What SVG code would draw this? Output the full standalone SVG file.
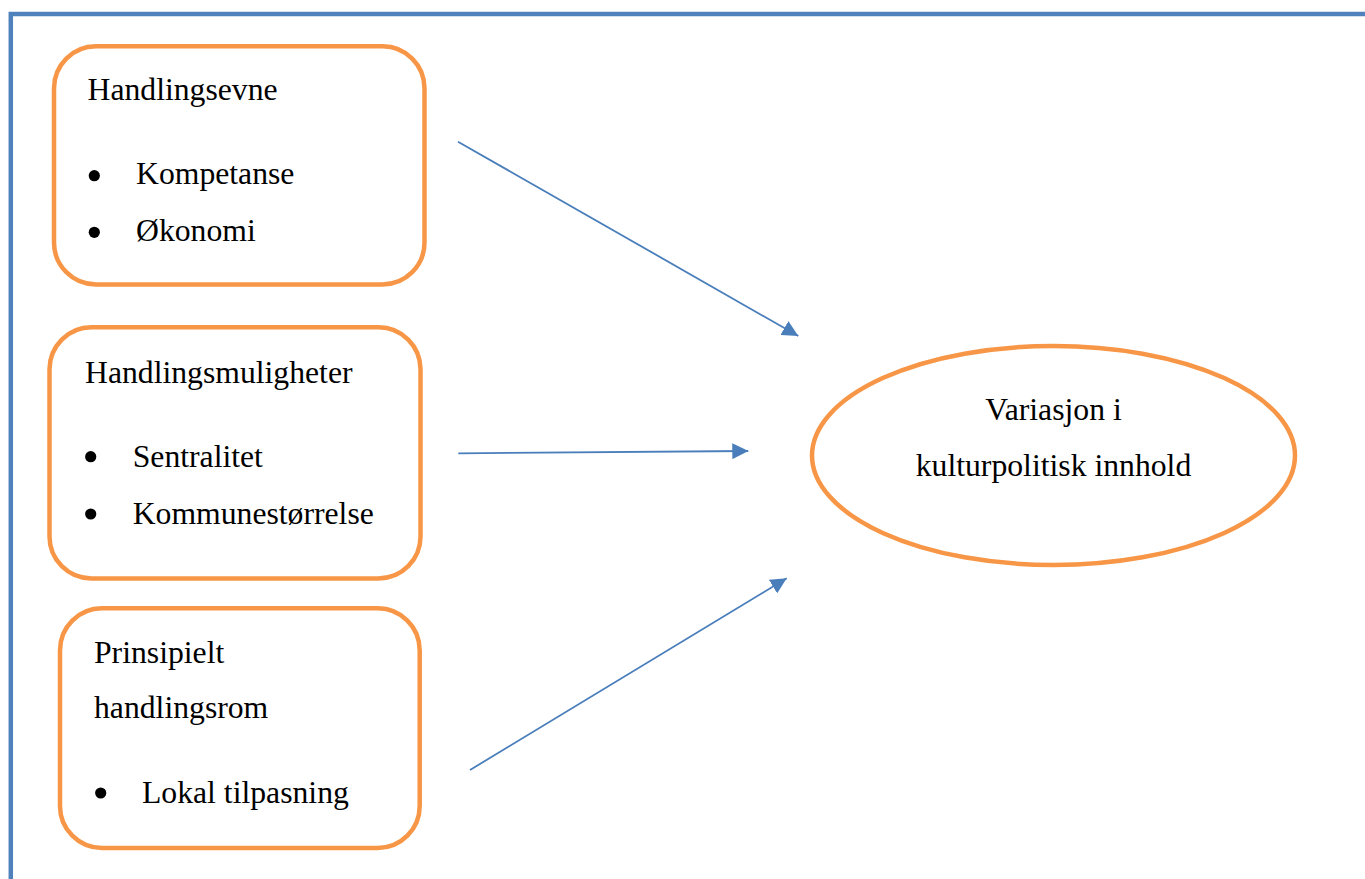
<svg xmlns="http://www.w3.org/2000/svg" width="1365" height="879" viewBox="0 0 1365 879">
<defs>
<style>
.frame{fill:none;stroke:#4f81bd;stroke-width:4.5}
.box{fill:#fff;stroke:#f79646;stroke-width:4.5}
.t{font-family:"Liberation Serif","Times New Roman",serif;font-size:31.7px;fill:#000}
.b{fill:#000}
.c{stroke:#4a7ebb;stroke-width:1.8;fill:none}
</style>
<marker id="ah" viewBox="0 0 10 10" refX="10" refY="5" markerUnits="userSpaceOnUse" markerWidth="16" markerHeight="16" orient="auto">
<path d="M0,0 L10,5 L0,10 z" fill="#4a7ebb"/>
</marker>
</defs>
<rect width="1365" height="879" fill="#fff"/>
<path class="frame" d="M10.8,879 V14 H1366"/>
<g id="node-handlingsevne">
<rect class="box" x="54" y="46.3" width="370.5" height="238.2" rx="42" ry="42"/>
<text class="t" x="87.5" y="100">Handlingsevne</text>
<circle class="b" cx="94.3" cy="175.7" r="5.6"/>
<text class="t" x="136" y="184.3">Kompetanse</text>
<circle class="b" cx="94.3" cy="232.3" r="5.6"/>
<text class="t" x="136" y="241">Økonomi</text>
</g>
<g id="node-handlingsmuligheter">
<rect class="box" x="49.5" y="327.3" width="371" height="251.2" rx="42" ry="42"/>
<text class="t" x="85" y="382.7">Handlingsmuligheter</text>
<circle class="b" cx="90.7" cy="456.7" r="5.6"/>
<text class="t" x="132.7" y="466.7">Sentralitet</text>
<circle class="b" cx="90.7" cy="514" r="5.6"/>
<text class="t" x="132.7" y="524.3">Kommunestørrelse</text>
</g>
<g id="node-handlingsrom">
<rect class="box" x="60" y="608.3" width="359.7" height="239.7" rx="42" ry="42"/>
<text class="t" x="94" y="663">Prinsipielt</text>
<text class="t" x="94" y="718">handlingsrom</text>
<circle class="b" cx="100.7" cy="793" r="5.6"/>
<text class="t" x="142" y="803">Lokal tilpasning</text>
</g>
<g id="node-variasjon">
<ellipse class="box" cx="1053.5" cy="455.5" rx="241.5" ry="109.5"/>
<text class="t" x="1053.5" y="420" text-anchor="middle">Variasjon i</text>
<text class="t" x="1053.5" y="475.7" text-anchor="middle">kulturpolitisk innhold</text>
</g>
<g id="connectors">
<line class="c" x1="458" y1="141.7" x2="798.3" y2="336" marker-end="url(#ah)"/>
<line class="c" x1="458.3" y1="453.3" x2="748.3" y2="451" marker-end="url(#ah)"/>
<line class="c" x1="470" y1="770" x2="786.7" y2="578.3" marker-end="url(#ah)"/>
</g>
</svg>
